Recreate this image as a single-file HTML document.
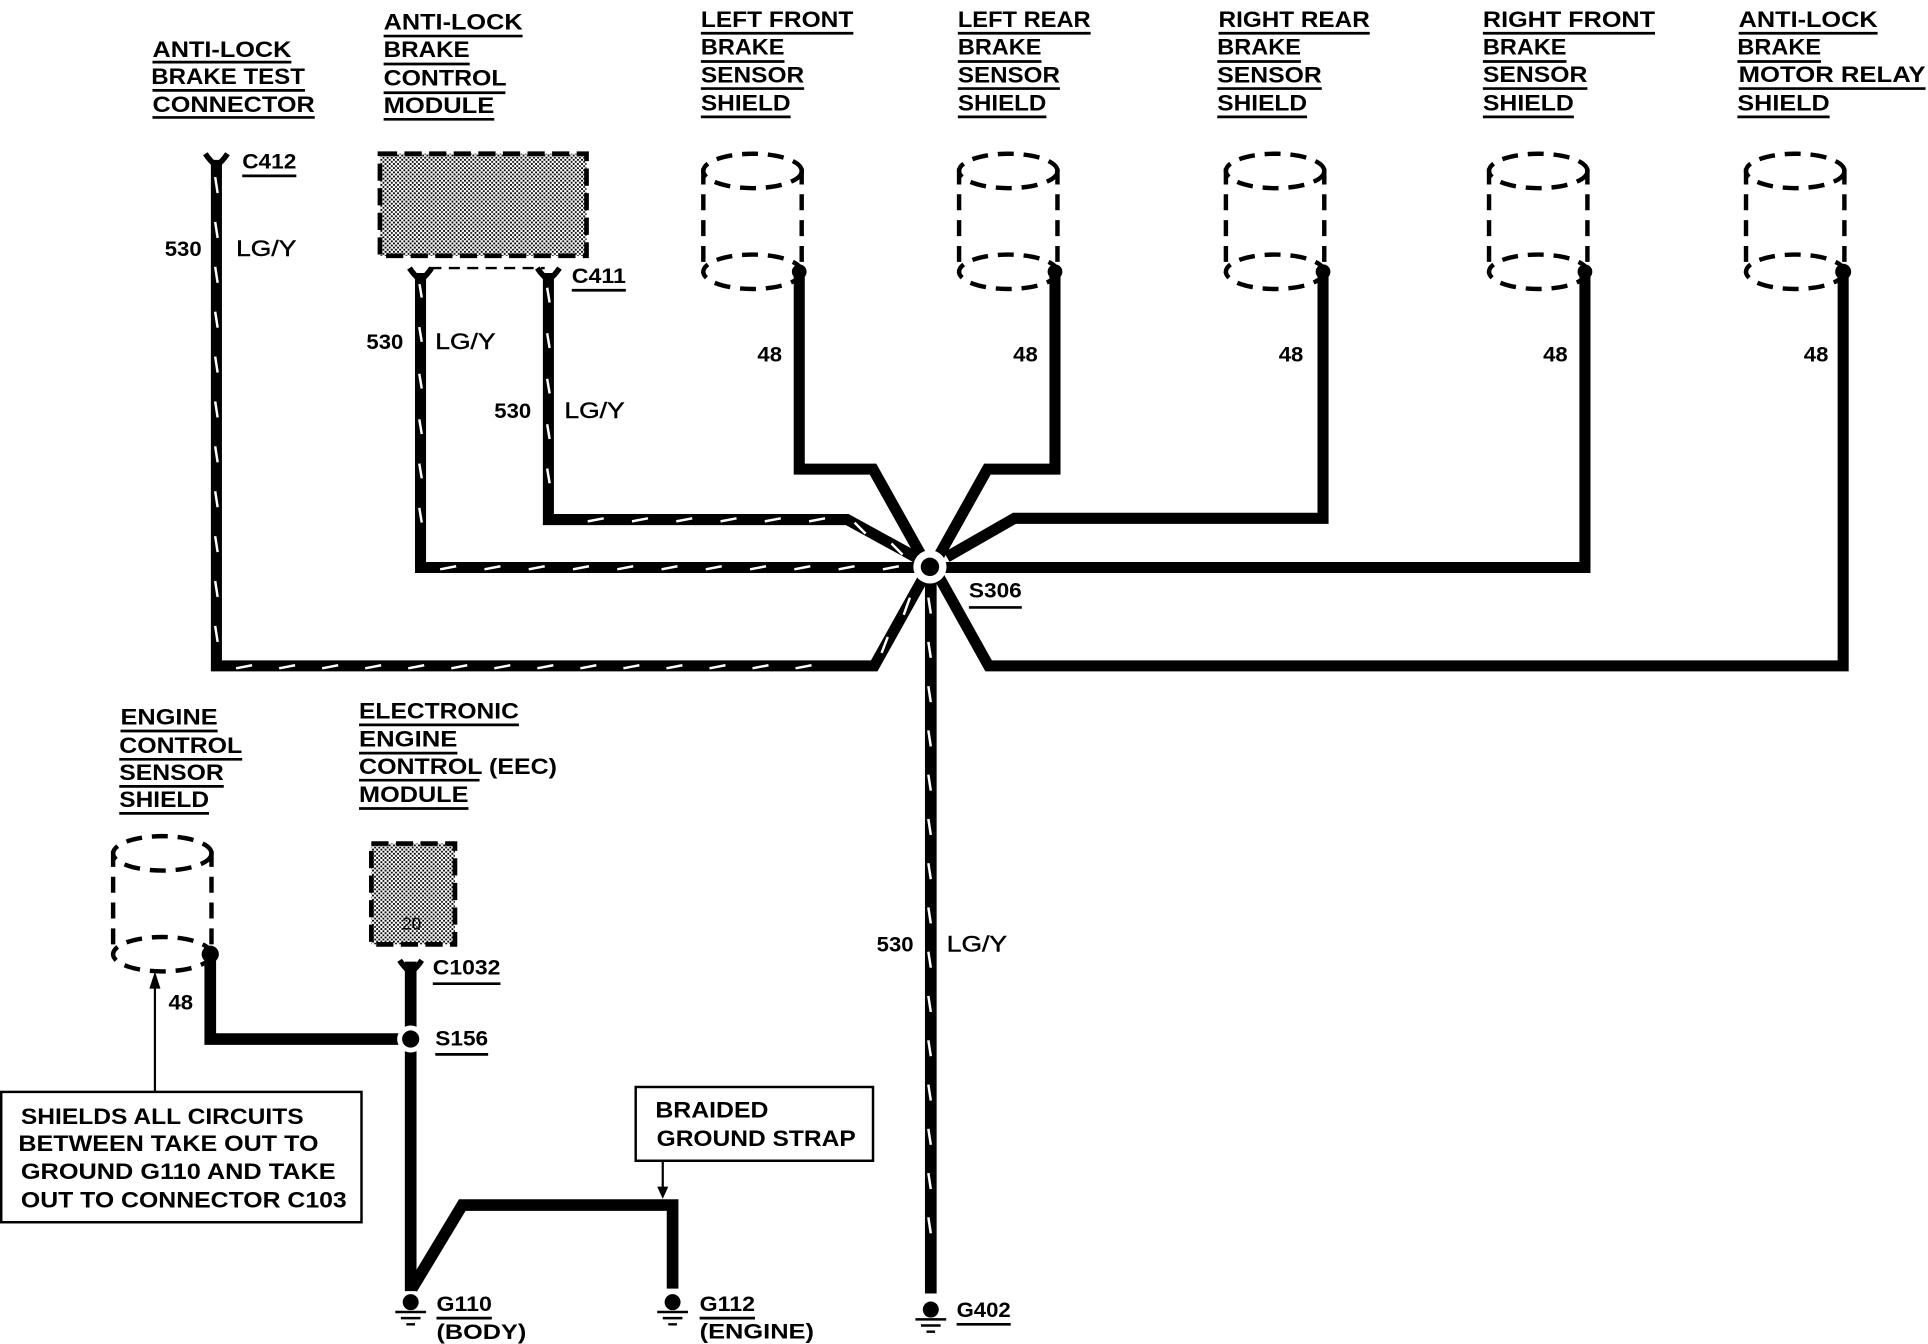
<!DOCTYPE html>
<html><head><meta charset="utf-8"><title>Anti-lock brake shield and ground diagram</title>
<style>
html,body{margin:0;padding:0;background:#fff}
svg{display:block}
text{font-family:"Liberation Sans",Arial,sans-serif;font-weight:bold;fill:#000}
.t{font-size:18px}
.w{font-size:17px}
.l{font-size:18px;font-weight:normal;stroke:#000;stroke-width:.35}
.c{font-size:17px}
</style></head><body>
<svg width="1928" height="1344" viewBox="0 0 1568 1093" xmlns="http://www.w3.org/2000/svg">
<defs>
<pattern id="st" patternUnits="userSpaceOnUse" width="3.4" height="3.4"><rect width="3.4" height="3.4" fill="#fff"/><rect width="1.5" height="1.5" fill="#000"/><rect x="1.7" y="1.7" width="1.5" height="1.5" fill="#000"/></pattern>
<g id="cyl" fill="none" stroke="#000" stroke-width="3.600" stroke-dasharray="13 8">
<ellipse cx="40" cy="139" rx="40" ry="14"/>
<ellipse cx="40" cy="221" rx="40" ry="14"/>
<path d="M0 137V222M80 137V222"/>
</g>
<path id="y" d="M-9 -7Q-5 -1 0 3Q5 -1 9 -7M0 0V6" fill="none" stroke="#000" stroke-width="4.500"/>
<g id="gnd"><circle r="6.500" cy="-3" fill="#000"/><path d="M-12.500 5H12.500M-8 10H8M-3.500 15H3.500" stroke="#000" stroke-width="2" fill="none"/></g>
</defs>
<rect width="1568" height="1093" fill="#fff"/>

<!-- wires -->
<g fill="none" stroke="#000" stroke-width="9" stroke-linejoin="miter">
<path stroke-width="9" d="M176 130V541.500H711L752 468"/>
<path stroke-width="9" d="M342 222V461.500H748"/>
<path stroke-width="9" d="M446 222V422.500H689L750 456"/>
<path stroke-width="9.500" d="M757 465V1052"/>
<path d="M650 222V381.500H710L750 453"/>
<path d="M858 222V381.500H803L763 453"/>
<path d="M1076 222V421.500H825L770 453"/>
<path d="M1289 222V461.500H768"/>
<path d="M1499 222V541.500H804L763 468"/>
<path d="M171 778V845H326" stroke-width="9.500"/>
<path d="M334 782V1050" stroke-width="9.500"/>
<path d="M335 1048L376 980H547V1048" stroke-width="9.500"/>
</g>

<!-- wire ticks -->
<g fill="none" stroke="#fff" stroke-width="2">
<path d="M175 144l2 13m-2 23.500l2 13m-2 23.500l2 13m-2 23.500l2 13m-2 23.500l2 13m-2 23.500l2 13m-2 23.500l2 13m-2 23.500l2 13m-2 23.500l2 13m-2 23.500l2 13m-2 23.500l2 13"/>
<path d="M192 543.500l13-2.500m22 2.500l13-2.500m22 2.500l13-2.500m22 2.500l13-2.500m22 2.500l13-2.500m22 2.500l13-2.500m22 2.500l13-2.500m22 2.500l13-2.500m22 2.500l13-2.500m22 2.500l13-2.500m22 2.500l13-2.500m22 2.500l13-2.500m22 2.500l13-2.500m22 2.500l13-2.500"/>
<path d="M717 531l5-13M735 500l5-14"/>
<path d="M341 230l2 12m-2 24l2 12m-2 26l2 12m-2 25l2 12m-2 24l2 12m-2 24l2 12"/>
<path d="M358 463l13-2.500m23 2.500l13-2.500m23 2.500l13-2.500m23 2.500l13-2.500m23 2.500l13-2.500m23 2.500l13-2.500m23 2.500l13-2.500m23 2.500l13-2.500m23 2.500l13-2.500m23 2.500l13-2.500m23 2.500l13-2.500"/>
<path d="M445 234l2 12m-2 25l2 12m-2 25l2 12m-2 25l2 12m-2 24l2 12"/>
<path d="M478 424l13-2.500m23 2.500l13-2.500m23 2.500l13-2.500m23 2.500l13-2.500m23 2.500l13-2.500m23 2.500l13-2.500"/>
<path d="M695 425l9 9M725 442l9 9"/>
<path d="M755 486l2 13m-2 23l2 13m-2 23l2 13m-2 23l2 13m-2 23l2 13m-2 23l2 13m-2 23l2 13m-2 23l2 13m-2 23l2 13m-2 23l2 13m-2 23l2 13m-2 23l2 13m-2 23l2 13m-2 23l2 13m-2 23l2 13"/>
</g>

<!-- splices -->
<circle cx="756.300" cy="461" r="13.500" fill="#fff"/>
<circle cx="756.300" cy="461" r="7.500" fill="#000"/>
<circle cx="334" cy="845" r="11" fill="#fff"/>
<circle cx="334" cy="845" r="7" fill="#000"/>

<!-- connectors -->
<use href="#y" x="176" y="132"/>
<use href="#y" x="342" y="225"/>
<use href="#y" x="446" y="225"/>
<use href="#y" x="334" y="788"/>
<path d="M350 218H443" stroke="#000" stroke-width="2" stroke-dasharray="9 6" fill="none"/>

<!-- modules -->
<rect x="309" y="125" width="168" height="83" fill="url(#st)" stroke="#000" stroke-width="3.800" stroke-dasharray="14 6"/>
<rect x="302" y="686" width="68" height="82" fill="url(#st)" stroke="#000" stroke-width="3.800" stroke-dasharray="14 6"/>
<text x="327" y="756" font-size="14" style="font-weight:normal;fill:#000">20</text>

<!-- shields -->
<use href="#cyl" x="572"/><use href="#cyl" x="780"/><use href="#cyl" x="997"/><use href="#cyl" x="1211"/><use href="#cyl" x="1420"/>
<use href="#cyl" x="92" y="555"/>
<g fill="#000"><circle cx="650" cy="221" r="6"/><circle cx="858" cy="221" r="6"/><circle cx="1076" cy="221" r="6"/><circle cx="1289" cy="221" r="6"/><circle cx="1499" cy="221" r="6.500"/><circle cx="171" cy="776" r="7"/></g>

<!-- grounds -->
<use href="#gnd" x="334" y="1062"/>
<use href="#gnd" x="547" y="1062"/>
<use href="#gnd" x="757" y="1068"/>

<!-- callouts -->
<rect x="1" y="888" width="293" height="106" fill="#fff" stroke="#000" stroke-width="2"/>
<rect x="517" y="884" width="193" height="60" fill="#fff" stroke="#000" stroke-width="2"/>
<path d="M126 888V800M539 944V968" stroke="#000" stroke-width="1.800" fill="none"/>
<path d="M126 790l-4.500 14h9zM539 975l-4.500-10h9z" fill="#000"/>

<!-- underlines -->
<path fill="none" stroke="#000" stroke-width="2.200" d="M124 50.500H237M124 73.500H248M124 95.500H256
M312 29.300H425M312 52H382M312 75.400H411M312 97H402
M570 27H694M570 50H638M570 72H654M570 95H643
M779 27H887M779 50H847M779 72H862M779 95H851
M991 27H1114M990 50H1058M990 72H1075M990 95H1063
M1206 27H1346M1206 50H1274M1206 72H1291M1206 95H1280
M1414 27H1527M1413 50H1481M1414 72H1566M1413 95H1488
M98 594.500H177M97 617.500H197M97 639.500H182M97 661.500H170
M292 589.500H422M292 612.500H372M292 634.500H390M292 657.500H381
M197 143H241M465 236H509M788 494H831M352 800H407M354 857.500H397M355 1072H400M569 1072H614M778 1077H822"/>

<!-- labels -->
<g>
<text class="t" x="124" y="46.300" textLength="113" lengthAdjust="spacingAndGlyphs">ANTI-LOCK</text>
<text class="t" x="123" y="68.300" textLength="125" lengthAdjust="spacingAndGlyphs">BRAKE TEST</text>
<text class="t" x="124" y="91" textLength="132" lengthAdjust="spacingAndGlyphs">CONNECTOR</text>

<text class="t" x="312" y="24" textLength="113" lengthAdjust="spacingAndGlyphs">ANTI-LOCK</text>
<text class="t" x="312" y="46.500" textLength="70" lengthAdjust="spacingAndGlyphs">BRAKE</text>
<text class="t" x="312" y="69.500" textLength="100" lengthAdjust="spacingAndGlyphs">CONTROL</text>
<text class="t" x="312" y="92" textLength="90" lengthAdjust="spacingAndGlyphs">MODULE</text>

<text class="t" x="570" y="22" textLength="124" lengthAdjust="spacingAndGlyphs">LEFT FRONT</text>
<text class="t" x="570" y="44.500" textLength="68" lengthAdjust="spacingAndGlyphs">BRAKE</text>
<text class="t" x="570" y="67" textLength="84" lengthAdjust="spacingAndGlyphs">SENSOR</text>
<text class="t" x="570" y="90" textLength="73" lengthAdjust="spacingAndGlyphs">SHIELD</text>

<text class="t" x="779" y="22" textLength="108" lengthAdjust="spacingAndGlyphs">LEFT REAR</text>
<text class="t" x="779" y="44.500" textLength="68" lengthAdjust="spacingAndGlyphs">BRAKE</text>
<text class="t" x="779" y="67" textLength="83" lengthAdjust="spacingAndGlyphs">SENSOR</text>
<text class="t" x="779" y="90" textLength="72" lengthAdjust="spacingAndGlyphs">SHIELD</text>

<text class="t" x="991" y="22" textLength="123" lengthAdjust="spacingAndGlyphs">RIGHT REAR</text>
<text class="t" x="990" y="44.500" textLength="68" lengthAdjust="spacingAndGlyphs">BRAKE</text>
<text class="t" x="990" y="67" textLength="85" lengthAdjust="spacingAndGlyphs">SENSOR</text>
<text class="t" x="990" y="90" textLength="73" lengthAdjust="spacingAndGlyphs">SHIELD</text>

<text class="t" x="1206" y="22" textLength="140" lengthAdjust="spacingAndGlyphs">RIGHT FRONT</text>
<text class="t" x="1206" y="44.500" textLength="68" lengthAdjust="spacingAndGlyphs">BRAKE</text>
<text class="t" x="1206" y="66.500" textLength="85" lengthAdjust="spacingAndGlyphs">SENSOR</text>
<text class="t" x="1206" y="90" textLength="74" lengthAdjust="spacingAndGlyphs">SHIELD</text>

<text class="t" x="1414" y="22" textLength="113" lengthAdjust="spacingAndGlyphs">ANTI-LOCK</text>
<text class="t" x="1413" y="44.500" textLength="68" lengthAdjust="spacingAndGlyphs">BRAKE</text>
<text class="t" x="1414" y="66.500" textLength="152" lengthAdjust="spacingAndGlyphs">MOTOR RELAY</text>
<text class="t" x="1413" y="90" textLength="75" lengthAdjust="spacingAndGlyphs">SHIELD</text>

<text class="t" x="98" y="589.300" textLength="79" lengthAdjust="spacingAndGlyphs">ENGINE</text>
<text class="t" x="97" y="612.300" textLength="100" lengthAdjust="spacingAndGlyphs">CONTROL</text>
<text class="t" x="97" y="634.300" textLength="85" lengthAdjust="spacingAndGlyphs">SENSOR</text>
<text class="t" x="97" y="656.300" textLength="73" lengthAdjust="spacingAndGlyphs">SHIELD</text>

<text class="t" x="292" y="584.300" textLength="130" lengthAdjust="spacingAndGlyphs">ELECTRONIC</text>
<text class="t" x="292" y="607.300" textLength="80" lengthAdjust="spacingAndGlyphs">ENGINE</text>
<text class="t" x="292" y="629.300" textLength="161" lengthAdjust="spacingAndGlyphs">CONTROL (EEC)</text>
<text class="t" x="292" y="652.300" textLength="89" lengthAdjust="spacingAndGlyphs">MODULE</text>

<text class="w" x="134" y="208" textLength="30" lengthAdjust="spacingAndGlyphs">530</text>
<text class="l" x="192" y="208" textLength="49" lengthAdjust="spacingAndGlyphs">LG/Y</text>
<text class="w" x="298" y="284" textLength="30" lengthAdjust="spacingAndGlyphs">530</text>
<text class="l" x="354" y="284" textLength="49" lengthAdjust="spacingAndGlyphs">LG/Y</text>
<text class="w" x="402" y="340" textLength="30" lengthAdjust="spacingAndGlyphs">530</text>
<text class="l" x="459" y="340" textLength="49" lengthAdjust="spacingAndGlyphs">LG/Y</text>
<text class="w" x="713" y="774" textLength="30" lengthAdjust="spacingAndGlyphs">530</text>
<text class="l" x="770" y="774" textLength="49" lengthAdjust="spacingAndGlyphs">LG/Y</text>

<text class="w" x="616" y="294" textLength="20" lengthAdjust="spacingAndGlyphs">48</text>
<text class="w" x="824" y="294" textLength="20" lengthAdjust="spacingAndGlyphs">48</text>
<text class="w" x="1040" y="294" textLength="20" lengthAdjust="spacingAndGlyphs">48</text>
<text class="w" x="1255" y="294" textLength="20" lengthAdjust="spacingAndGlyphs">48</text>
<text class="w" x="1467" y="294" textLength="20" lengthAdjust="spacingAndGlyphs">48</text>
<text class="w" x="137" y="821" textLength="20" lengthAdjust="spacingAndGlyphs">48</text>

<text class="c" x="197" y="137" textLength="44" lengthAdjust="spacingAndGlyphs">C412</text>
<text class="c" x="465" y="230" textLength="44" lengthAdjust="spacingAndGlyphs">C411</text>
<text class="c" x="788" y="486" textLength="43" lengthAdjust="spacingAndGlyphs">S306</text>
<text class="c" x="352" y="792.500" textLength="55" lengthAdjust="spacingAndGlyphs">C1032</text>
<text class="c" x="354" y="850.300" textLength="43" lengthAdjust="spacingAndGlyphs">S156</text>
<text class="c" x="355" y="1066" textLength="45" lengthAdjust="spacingAndGlyphs">G110</text>
<text class="c" x="355" y="1089" textLength="73" lengthAdjust="spacingAndGlyphs">(BODY)</text>
<text class="c" x="569" y="1066" textLength="45" lengthAdjust="spacingAndGlyphs">G112</text>
<text class="c" x="569" y="1088.500" textLength="93" lengthAdjust="spacingAndGlyphs">(ENGINE)</text>
<text class="c" x="778" y="1071" textLength="44" lengthAdjust="spacingAndGlyphs">G402</text>

<text class="t" x="17" y="914" textLength="230" lengthAdjust="spacingAndGlyphs">SHIELDS ALL CIRCUITS</text>
<text class="t" x="15" y="936" textLength="244" lengthAdjust="spacingAndGlyphs">BETWEEN TAKE OUT TO</text>
<text class="t" x="17" y="959" textLength="256" lengthAdjust="spacingAndGlyphs">GROUND G110 AND TAKE</text>
<text class="t" x="17" y="982" textLength="265" lengthAdjust="spacingAndGlyphs">OUT TO CONNECTOR C103</text>
<text class="t" x="533" y="909" textLength="92" lengthAdjust="spacingAndGlyphs">BRAIDED</text>
<text class="t" x="534" y="932" textLength="162" lengthAdjust="spacingAndGlyphs">GROUND STRAP</text>
</g>
</svg>
</body></html>
